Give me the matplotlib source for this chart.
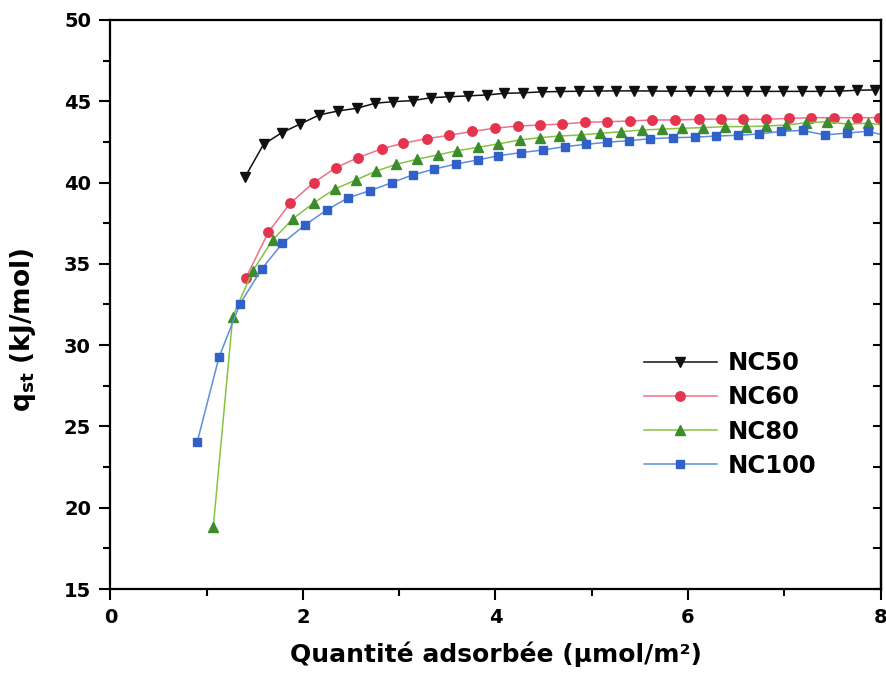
import numpy as np
import matplotlib
matplotlib.use("Agg")
import matplotlib.pyplot as plt
from matplotlib.ticker import MultipleLocator

plt.rcParams.update({
    "font.family":      "DejaVu Sans",
    "font.weight":      "bold",
    "axes.linewidth":   1.6,
    "mathtext.fontset": "custom",
    "mathtext.rm":      "DejaVu Sans:bold",
    "mathtext.bf":      "DejaVu Sans:bold",
    "mathtext.it":      "DejaVu Sans:bold",
})

# Data
nc50_x = [1.40, 1.59, 1.78, 1.97, 2.17, 2.36, 2.56, 2.75, 2.94, 3.14, 3.33, 3.52,
          3.71, 3.91, 4.09, 4.29, 4.48, 4.67, 4.87, 5.06, 5.25, 5.44, 5.63, 5.82,
          6.02, 6.22, 6.41, 6.61, 6.80, 6.99, 7.18, 7.37, 7.57, 7.76, 7.94]
nc50_y = [40.36, 42.35, 43.07, 43.60, 44.16, 44.40, 44.57, 44.88, 44.98, 45.04, 45.22, 45.28,
          45.33, 45.39, 45.49, 45.52, 45.58, 45.60, 45.62, 45.63, 45.64, 45.64, 45.63, 45.62,
          45.62, 45.61, 45.61, 45.61, 45.61, 45.61, 45.61, 45.61, 45.62, 45.68, 45.70]

nc60_x = [1.405, 1.64, 1.865, 2.11, 2.34, 2.57, 2.82, 3.04, 3.285, 3.52, 3.76, 3.99,
          4.23, 4.46, 4.69, 4.93, 5.16, 5.40, 5.63, 5.87, 6.11, 6.34, 6.57, 6.81,
          7.05, 7.28, 7.52, 7.76, 7.98]
nc60_y = [34.11, 36.94, 38.72, 39.99, 40.91, 41.53, 42.08, 42.42, 42.70, 42.91, 43.15, 43.34,
          43.48, 43.54, 43.60, 43.71, 43.74, 43.79, 43.85, 43.85, 43.89, 43.91, 43.89, 43.89,
          43.95, 43.99, 43.99, 43.99, 43.99]

nc80_x = [1.068, 1.27, 1.477, 1.685, 1.893, 2.114, 2.33, 2.55, 2.76, 2.97, 3.18, 3.40,
          3.60, 3.82, 4.03, 4.25, 4.46, 4.66, 4.885, 5.09, 5.30, 5.52, 5.73, 5.94,
          6.16, 6.38, 6.60, 6.81, 7.02, 7.23, 7.44, 7.66, 7.87, 8.08]
nc80_y = [18.83, 31.75, 34.56, 36.47, 37.76, 38.76, 39.60, 40.16, 40.71, 41.12, 41.43, 41.70,
          41.96, 42.17, 42.38, 42.62, 42.76, 42.86, 42.93, 43.03, 43.13, 43.23, 43.29, 43.34,
          43.38, 43.44, 43.44, 43.48, 43.54, 43.68, 43.74, 43.60, 43.65, 43.50]

nc100_x = [0.90, 1.127, 1.345, 1.571, 1.785, 2.02, 2.246, 2.47, 2.696, 2.92, 3.14, 3.364,
           3.59, 3.815, 4.03, 4.26, 4.49, 4.72, 4.94, 5.16, 5.39, 5.61, 5.84, 6.07,
           6.29, 6.52, 6.74, 6.97, 7.19, 7.42, 7.65, 7.87, 8.09]
nc100_y = [24.02, 29.25, 32.53, 34.68, 36.26, 37.39, 38.31, 39.07, 39.50, 39.99, 40.47, 40.83,
           41.14, 41.39, 41.65, 41.84, 42.00, 42.21, 42.35, 42.48, 42.58, 42.70, 42.76, 42.79,
           42.86, 42.91, 42.99, 43.15, 43.21, 42.93, 43.04, 43.16, 42.82]

labels = ["NC50", "NC60", "NC80", "NC100"]

# (line colour, marker colour, marker, size)
STYLES = [
    ("#111111", "#111111", "v", 7.5),
    ("#f0708a", "#e5344e", "o", 6.8),
    ("#86c440", "#3c8c2c", "^", 7.5),
    ("#5b8ee0", "#3160c6", "s", 5.8),
]

fig = plt.figure(figsize=(8.86, 6.73), dpi=100)
ax = fig.add_axes([0.1247, 0.1248, 0.8691, 0.8455])

series = [(nc50_x, nc50_y), (nc60_x, nc60_y), (nc80_x, nc80_y), (nc100_x, nc100_y)]
for (xs, ys), lab, (lc, mc, mk, ms) in zip(series, labels, STYLES):
    ax.plot(xs, ys, color=lc, lw=1.1, marker=mk, ms=ms,
            mfc=mc, mec=mc, label=lab)

ax.set_xlim(0, 8)
ax.set_ylim(15, 50)
ax.xaxis.set_major_locator(MultipleLocator(2))
ax.xaxis.set_minor_locator(MultipleLocator(1))
ax.yaxis.set_major_locator(MultipleLocator(5))
ax.yaxis.set_minor_locator(MultipleLocator(2.5))

ax.tick_params(axis="both", which="major", direction="out", length=8,
               width=1.5, labelsize=14, pad=6)
ax.tick_params(axis="both", which="minor", direction="out", length=5, width=1.5)

# right-hand ticks point inwards, no labels
sec = ax.secondary_yaxis("right")
sec.yaxis.set_major_locator(MultipleLocator(5))
sec.yaxis.set_minor_locator(MultipleLocator(2.5))
sec.tick_params(which="both", direction="in", length=6, width=1.5, labelright=False)
sec.spines["right"].set_linewidth(1.6)

ax.set_xlabel("Quantité adsorbée (µmol/m²)", fontsize=18, fontweight="bold",
              labelpad=10)
ax.set_ylabel(r"$\mathbf{q_{st}}$ (kJ/mol)", fontsize=19, fontweight="bold")
ax.yaxis.set_label_coords(-0.094, 0.455)

leg = ax.legend(loc="upper left", bbox_to_anchor=(0.68, 0.435), frameon=False,
                fontsize=17.5, handlelength=3.0, handletextpad=0.45,
                labelspacing=0.42, borderaxespad=0)

fig.savefig("out.png", dpi=100, facecolor="white")
plt.close(fig)
